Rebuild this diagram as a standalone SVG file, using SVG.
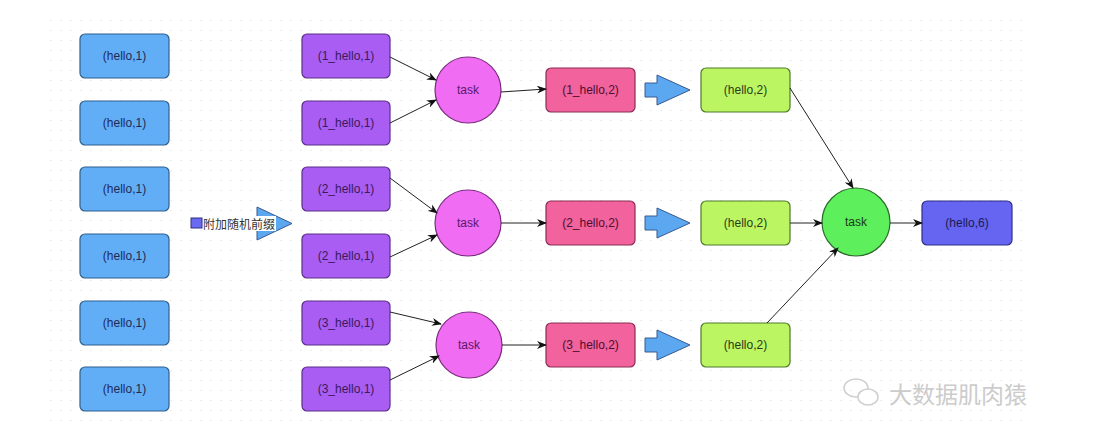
<svg xmlns="http://www.w3.org/2000/svg" width="1103" height="433" viewBox="0 0 1103 433">
<style>
  text { font-family: "Liberation Sans", Arial, sans-serif; font-size: 12px; text-anchor: middle; dominant-baseline: central; }
  .blue rect { fill: #62aef6; stroke: #2f5f8c; stroke-width: 1.2; }
  .blue text { fill: #1c2c56; }
  .purple rect { fill: #a95df3; stroke: #5b3088; stroke-width: 1.2; }
  .purple text { fill: #3a1a60; }
  .ptask circle { fill: #f06cf2; stroke: #7b2c7e; stroke-width: 1.2; }
  .ptask text { fill: #5a1a6a; }
  .pink rect { fill: #f2629c; stroke: #8a2c55; stroke-width: 1.2; }
  .pink text { fill: #4a1030; }
  .lime rect { fill: #bcf562; stroke: #4f7a2a; stroke-width: 1.2; }
  .lime text { fill: #2c3a1a; }
  .gtask circle { fill: #5ef05c; stroke: #2b6a2a; stroke-width: 1.2; }
  .gtask text { fill: #173a17; }
  .final rect { fill: #6565f2; stroke: #2f2f88; stroke-width: 1.2; }
  .final text { fill: #1a1a55; }
  .conn line { stroke: #222; stroke-width: 1; marker-end: url(#ah); }
  .block { fill: #5ba8f0; stroke: #3a5a90; stroke-width: 1; }
</style>
<defs>
  <marker id="ah" viewBox="0 0 10 8" refX="9" refY="4" markerWidth="10" markerHeight="8" markerUnits="userSpaceOnUse" orient="auto">
    <path d="M0,0 L10,4 L0,8 L3,4 z" fill="#111"/>
  </marker>
  <pattern id="grid" width="10" height="10" patternUnits="userSpaceOnUse">
    <rect x="0" y="0" width="2" height="1" fill="#ececec"/>
  </pattern>
</defs>
<rect width="1103" height="433" fill="#ffffff"/>
<rect x="45" y="16" width="983" height="412" fill="url(#grid)"/>

<g id="src">
  <g id="b1" class="blue"><rect x="80" y="34" width="89" height="44" rx="5"/><text x="124.5" y="56">(hello,1)</text></g>
  <g id="b2" class="blue"><rect x="80" y="101" width="89" height="44" rx="5"/><text x="124.5" y="123">(hello,1)</text></g>
  <g id="b3" class="blue"><rect x="80" y="167" width="89" height="44" rx="5"/><text x="124.5" y="189">(hello,1)</text></g>
  <g id="b4" class="blue"><rect x="80" y="234" width="89" height="44" rx="5"/><text x="124.5" y="256">(hello,1)</text></g>
  <g id="b5" class="blue"><rect x="80" y="301" width="89" height="44" rx="5"/><text x="124.5" y="323">(hello,1)</text></g>
  <g id="b6" class="blue"><rect x="80" y="367" width="89" height="44" rx="5"/><text x="124.5" y="389">(hello,1)</text></g>
</g>

<g id="prefix-label">
  <polygon class="block" points="257,207 292,223.5 257,240"/>
  <rect x="203" y="216" width="73" height="15" fill="#ffffff"/>
  <rect x="191" y="218" width="11" height="10" fill="#6a6af0" stroke="#2f2f88" stroke-width="1"/>
  <text x="239" y="223.5" style="font-family: 'Noto Sans CJK SC', 'Liberation Sans', sans-serif; font-size: 12px; fill:#333;">附加随机前缀</text>
</g>

<g id="pre">
  <g id="p1" class="purple"><rect x="302" y="34" width="88" height="44" rx="5"/><text x="346" y="56">(1_hello,1)</text></g>
  <g id="p2" class="purple"><rect x="302" y="101" width="88" height="44" rx="5"/><text x="346" y="123">(1_hello,1)</text></g>
  <g id="p3" class="purple"><rect x="302" y="167" width="88" height="44" rx="5"/><text x="346" y="189">(2_hello,1)</text></g>
  <g id="p4" class="purple"><rect x="302" y="234" width="88" height="44" rx="5"/><text x="346" y="256">(2_hello,1)</text></g>
  <g id="p5" class="purple"><rect x="302" y="301" width="88" height="44" rx="5"/><text x="346" y="323">(3_hello,1)</text></g>
  <g id="p6" class="purple"><rect x="302" y="367" width="88" height="44" rx="5"/><text x="346" y="389">(3_hello,1)</text></g>
</g>

<g id="task1" class="ptask"><circle cx="468" cy="90" r="33"/><text x="468" y="90">task</text></g>
<g id="task2" class="ptask"><circle cx="468" cy="223" r="33"/><text x="468" y="223">task</text></g>
<g id="task3" class="ptask"><circle cx="469" cy="345" r="33"/><text x="469" y="345">task</text></g>

<g id="k1" class="pink"><rect x="546" y="68" width="89" height="44" rx="5"/><text x="590.5" y="90">(1_hello,2)</text></g>
<g id="k2" class="pink"><rect x="546" y="201" width="89" height="44" rx="5"/><text x="590.5" y="223">(2_hello,2)</text></g>
<g id="k3" class="pink"><rect x="546" y="323" width="89" height="44" rx="5"/><text x="590.5" y="345">(3_hello,2)</text></g>

<g id="shift-arrows">
  <polygon class="block" points="645,83 657,83 657,75 690,90 657,105 657,97 645,97"/>
  <polygon class="block" points="645,216 657,216 657,208 690,223 657,238 657,230 645,230"/>
  <polygon class="block" points="645,338 657,338 657,330 690,345 657,360 657,352 645,352"/>
</g>

<g id="g1" class="lime"><rect x="701" y="68" width="89" height="44" rx="5"/><text x="745.5" y="90">(hello,2)</text></g>
<g id="g2" class="lime"><rect x="701" y="201" width="89" height="44" rx="5"/><text x="745.5" y="223">(hello,2)</text></g>
<g id="g3" class="lime"><rect x="701" y="323" width="89" height="44" rx="5"/><text x="745.5" y="345">(hello,2)</text></g>

<g id="task4" class="gtask"><circle cx="856" cy="222" r="34"/><text x="856" y="222">task</text></g>

<g id="result" class="final"><rect x="922" y="201" width="90" height="44" rx="5"/><text x="967" y="223">(hello,6)</text></g>

<g id="connectors" class="conn">
  <line x1="390" y1="57" x2="436" y2="80"/>
  <line x1="390" y1="123" x2="436" y2="100"/>
  <line x1="390" y1="178" x2="437" y2="213"/>
  <line x1="390" y1="257" x2="437" y2="235"/>
  <line x1="390" y1="312" x2="441" y2="324"/>
  <line x1="390" y1="380" x2="439" y2="356"/>
  <line x1="501" y1="92" x2="546" y2="89"/>
  <line x1="501" y1="223" x2="546" y2="223"/>
  <line x1="502" y1="345" x2="546" y2="345"/>
  <line x1="790" y1="88" x2="853" y2="188"/>
  <line x1="790" y1="223" x2="822" y2="223"/>
  <line x1="767" y1="323" x2="838" y2="248"/>
  <line x1="890" y1="223" x2="922" y2="223"/>
</g>

<g id="watermark" fill="none" stroke="#cfcfcf" stroke-width="1.5">
  <ellipse cx="856" cy="388" rx="12" ry="9"/>
  <ellipse cx="868" cy="397" rx="10" ry="8" fill="#ffffff"/>
  <text x="958" y="393" style="font-family: 'Noto Sans CJK SC', sans-serif; font-size: 23px; fill:#cccccc; stroke:none;">大数据肌肉猿</text>
</g>
</svg>
